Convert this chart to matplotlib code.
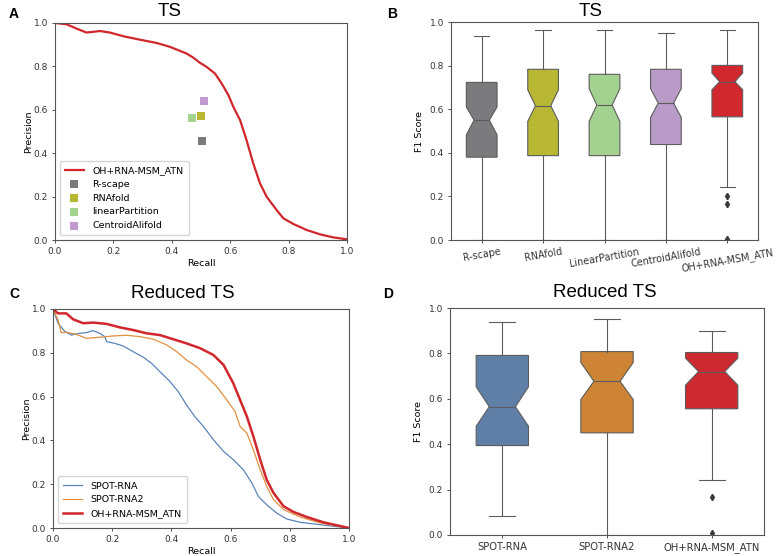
import matplotlib
matplotlib.use("Agg")
import matplotlib.pyplot as plt

# ---------------- data ----------------
# Panel A: PR curve of OH+RNA-MSM_ATN on TS
A_recall = [0, 0.02, 0.04, 0.074, 0.108, 0.154, 0.188, 0.234, 0.291, 0.348, 0.394, 0.451, 0.474,
            0.497, 0.519, 0.548, 0.571, 0.594, 0.611, 0.634, 0.656, 0.679, 0.702, 0.725,
            0.759, 0.782, 0.816, 0.862, 0.908, 0.953, 1.0]
A_precision = [1.0, 0.997, 0.994, 0.974, 0.956, 0.963, 0.956, 0.939, 0.923, 0.908, 0.890, 0.859, 0.840,
               0.816, 0.798, 0.767, 0.721, 0.667, 0.613, 0.552, 0.460, 0.353, 0.261, 0.199,
               0.138, 0.100, 0.074, 0.046, 0.026, 0.012, 0.003]
A_methods = ["R-scape", "RNAfold", "linearPartition", "CentroidAlifold"]
A_pt_recall = [0.502, 0.500, 0.468, 0.510]
A_pt_precision = [0.457, 0.571, 0.563, 0.641]

# Panel B: F1 box statistics on TS
B_labels = ["R-scape", "RNAfold", "LinearPartition", "CentroidAlifold", "OH+RNA-MSM_ATN"]
B_whishi = [0.937, 0.962, 0.962, 0.949, 0.963]
B_q3 = [0.723, 0.783, 0.760, 0.783, 0.801]
B_median = [0.550, 0.616, 0.619, 0.628, 0.726]
B_q1 = [0.380, 0.387, 0.387, 0.438, 0.565]
B_whislo = [0.0, 0.0, 0.0, 0.0, 0.242]
B_cihi = [0.610, 0.689, 0.694, 0.695, 0.766]
B_cilo = [0.482, 0.544, 0.544, 0.562, 0.689]
B_fliers = [[], [], [], [], [0.202, 0.165, 0.003]]

# Panel C: PR curves on Reduced TS
C_spot_recall = [0, 0.017, 0.04, 0.062, 0.09, 0.113, 0.135, 0.158, 0.175, 0.181, 0.209, 0.237,
                 0.271, 0.305, 0.333, 0.361, 0.395, 0.423, 0.451, 0.479, 0.508, 0.542, 0.576,
                 0.609, 0.643, 0.672, 0.694, 0.722, 0.756, 0.790, 0.835, 0.903, 1.0]
C_spot_precision = [1.0, 0.935, 0.897, 0.881, 0.889, 0.892, 0.901, 0.889, 0.874, 0.851, 0.843, 0.831,
                    0.805, 0.780, 0.752, 0.714, 0.669, 0.623, 0.562, 0.509, 0.464, 0.403, 0.350,
                    0.312, 0.266, 0.205, 0.144, 0.106, 0.068, 0.041, 0.026, 0.015, 0.0]
C_spot2_recall = [0, 0.017, 0.028, 0.045, 0.079, 0.113, 0.158, 0.203, 0.248, 0.293, 0.339, 0.384,
                  0.418, 0.451, 0.485, 0.519, 0.553, 0.587, 0.615, 0.632, 0.655, 0.677, 0.700,
                  0.722, 0.745, 0.779, 0.835, 0.903, 1.0]
C_spot2_precision = [1.0, 0.950, 0.892, 0.894, 0.884, 0.866, 0.871, 0.877, 0.880, 0.874, 0.862, 0.836,
                     0.805, 0.767, 0.737, 0.691, 0.646, 0.585, 0.532, 0.464, 0.433, 0.357, 0.266,
                     0.190, 0.129, 0.084, 0.050, 0.023, 0.0]
C_oh_recall = [0, 0.017, 0.045, 0.068, 0.102, 0.135, 0.181, 0.226, 0.271, 0.316, 0.361, 0.406,
               0.451, 0.497, 0.542, 0.576, 0.609, 0.632, 0.655, 0.677, 0.700, 0.722, 0.745,
               0.779, 0.813, 0.858, 0.914, 1.0]
C_oh_precision = [1.0, 0.980, 0.980, 0.953, 0.935, 0.938, 0.932, 0.916, 0.904, 0.889, 0.881, 0.862,
                  0.843, 0.821, 0.790, 0.745, 0.661, 0.585, 0.509, 0.418, 0.312, 0.220, 0.160,
                  0.099, 0.073, 0.050, 0.026, 0.0]

# Panel D: F1 box statistics on Reduced TS
D_labels = ["SPOT-RNA", "SPOT-RNA2", "OH+RNA-MSM_ATN"]
D_whishi = [0.937, 0.950, 0.897]
D_q3 = [0.791, 0.808, 0.804]
D_median = [0.565, 0.677, 0.720]
D_q1 = [0.394, 0.450, 0.556]
D_whislo = [0.083, 0.0, 0.243]
D_cihi = [0.653, 0.760, 0.779]
D_cilo = [0.479, 0.597, 0.660]
D_fliers = [[], [], [0.167, 0.007]]

# ---------------- style ----------------
LBL = 6.8
TCK = 6.5
plt.rcParams.update({
    "font.family": ["DejaVu Sans"],
    "font.size": LBL,
    "axes.edgecolor": "#555555",
    "axes.linewidth": 0.8,
    "xtick.color": "#333333",
    "ytick.color": "#333333",
    "xtick.labelsize": TCK,
    "ytick.labelsize": TCK,
    "xtick.major.size": 2.5,
    "ytick.major.size": 2.5,
    "xtick.major.width": 0.6,
    "ytick.major.width": 0.6,
    "xtick.major.pad": 2.5,
    "ytick.major.pad": 2.5,
})

RED = "#d0272c"
pt_colors = ["#7b7b7d", "#b8b632", "#a2d38f", "#c19ad2"]
B_colors = ["#7b7b7d", "#b9b834", "#a3d18f", "#b99bc7", "#d0282e"]
D_colors = ["#5f7fa7", "#cd8535", "#cc2a30"]
LINE_GRAY = "#5c5c5c"

W, H = 778, 556
fig = plt.figure(figsize=(W / 100, H / 100), dpi=100)


def px_axes(l, t, r, b):
    return fig.add_axes([l / W, 1 - b / H, (r - l) / W, (b - t) / H])


def boxes(ax, labels, lo, q1, med, q3, hi, cilo, cihi, fliers, colors):
    stats = []
    for i in range(len(labels)):
        stats.append(dict(label=labels[i], whislo=lo[i], q1=q1[i], med=med[i], q3=q3[i],
                          whishi=hi[i], cilo=cilo[i], cihi=cihi[i], fliers=fliers[i]))
    bp = ax.bxp(stats, positions=range(len(labels)), widths=0.5, shownotches=True,
                patch_artist=True,
                boxprops=dict(edgecolor=LINE_GRAY, linewidth=0.8),
                whiskerprops=dict(color=LINE_GRAY, linewidth=0.8),
                capprops=dict(color=LINE_GRAY, linewidth=0.8),
                medianprops=dict(color=LINE_GRAY, linewidth=0.8),
                flierprops=dict(marker="d", markersize=3.2, markerfacecolor="#3a3a3a",
                                markeredgecolor="#3a3a3a"))
    for patch, c in zip(bp["boxes"], colors):
        patch.set_facecolor(c)
    ax.set_xlim(-0.5, len(labels) - 0.5)
    ax.set_ylim(0, 1.0)
    ax.set_yticks([0, 0.2, 0.4, 0.6, 0.8, 1.0])
    ax.set_ylabel("F1 Score", fontsize=LBL)


# ---------------- Panel A ----------------
axA = px_axes(55, 23, 347, 240)
axA.plot(A_recall, A_precision, color=RED, lw=1.6, label="OH+RNA-MSM_ATN")
for m, rx, py, c in zip(A_methods, A_pt_recall, A_pt_precision, pt_colors):
    axA.scatter([rx], [py], marker="s", s=30, color=c, label=m, linewidths=0)
axA.set_xlim(0, 1)
axA.set_ylim(0, 1)
axA.set_xlabel("Recall", fontsize=LBL, labelpad=2)
axA.set_ylabel("Precision", fontsize=LBL, labelpad=0.5)
axA.legend(loc="lower left", fontsize=LBL, frameon=True, borderpad=0.55,
           labelspacing=0.5, handletextpad=0.9)

# ---------------- Panel B ----------------
axB = px_axes(451, 22, 758, 240)
boxes(axB, B_labels, B_whislo, B_q1, B_median, B_q3, B_whishi, B_cilo, B_cihi,
      B_fliers, B_colors)
axB.set_xticks(range(len(B_labels)))
axB.set_xticklabels(B_labels, rotation=10, ha="center", fontsize=6.9)

# ---------------- Panel C ----------------
axC = px_axes(53, 309, 349, 528)
axC.plot(C_spot_recall, C_spot_precision, color="#5a84b8", lw=0.9, label="SPOT-RNA")
axC.plot(C_spot2_recall, C_spot2_precision, color="#e0903e", lw=0.9, label="SPOT-RNA2")
axC.plot(C_oh_recall, C_oh_precision, color=RED, lw=1.8, label="OH+RNA-MSM_ATN")
axC.set_xlim(0, 1)
axC.set_ylim(0, 1)
axC.set_xlabel("Recall", fontsize=LBL, labelpad=2)
axC.set_ylabel("Precision", fontsize=LBL, labelpad=0.5)
axC.legend(loc="lower left", fontsize=LBL, frameon=True, borderpad=0.55,
           labelspacing=0.5, handletextpad=0.9)

# ---------------- Panel D ----------------
axD = px_axes(450, 308, 764, 535)
boxes(axD, D_labels, D_whislo, D_q1, D_median, D_q3, D_whishi, D_cilo, D_cihi,
      D_fliers, D_colors)
axD.set_xticks(range(len(D_labels)))
axD.set_xticklabels(D_labels, fontsize=7.2)

# ---------------- titles & panel letters ----------------
TF = dict(family=["Liberation Sans", "DejaVu Sans"], fontsize=13.5, ha="center",
          va="baseline")
fig.text(170 / W, 1 - 16 / H, "TS", **TF)
fig.text(591 / W, 1 - 16 / H, "TS", **TF)
fig.text(183 / W, 1 - 298 / H, "Reduced TS", **TF)
fig.text(605 / W, 1 - 297 / H, "Reduced TS", **TF)

LF = dict(family=["Liberation Sans", "DejaVu Sans"], fontsize=10, fontweight="bold",
          ha="center", va="center")
fig.text(14 / W, 1 - 14 / H, "A", **LF)
fig.text(392 / W, 1 - 14 / H, "B", **LF)
fig.text(14 / W, 1 - 294 / H, "C", **LF)
fig.text(388 / W, 1 - 294 / H, "D", **LF)

fig.savefig("out.png", dpi=100)
